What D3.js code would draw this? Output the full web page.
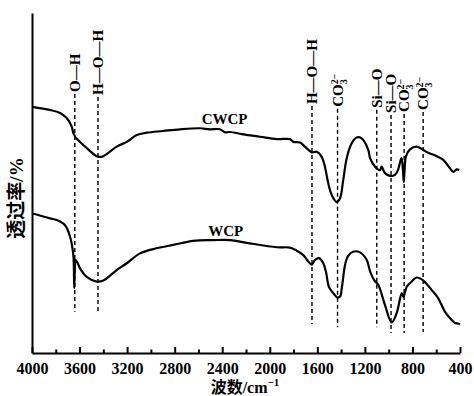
<!DOCTYPE html>
<html><head><meta charset="utf-8">
<script src="https://cdn.jsdelivr.net/npm/d3@7"></script>
<style>
html,body{margin:0;padding:0;background:#fff;}
svg{display:block;}
text{font-family:"Liberation Serif","Times New Roman","Noto Sans CJK SC",serif;font-weight:bold;fill:#000;}
</style></head>
<body><svg id="chart" width="474" height="396"></svg>
<script>
// ---- data ----
const cwcpWave = [4000,3849,3764,3708,3666,3653,3645,3638,3611,3540,3456,3414,3372,3288,3203,3119,3035,2898,2755,2587,2503,2419,2377,2335,2223,2082,1942,1830,1802,1746,1704,1647,1605,1563,1536,1508,1479,1437,1409,1382,1353,1311,1269,1227,1171,1157,1115,1073,1059,1031,989,947,922,892,880,873,866,854,821,764,709,667,596,541,484,456,428,406];
const cwcpVal  = [72.4,71.5,70.6,69.1,66.6,64.7,64.2,63.6,62.6,60.3,57.9,57.7,58.5,60.7,62.1,64.1,64.8,65.3,65.8,66.1,65.8,65.8,64.9,65.0,64.3,63.6,62.9,62.9,62.1,61.9,60.7,59.0,59.2,57.7,54.8,49.9,46.5,44.4,45.5,50.9,57.3,61.7,63.4,63.1,59.7,57.4,54.8,53.8,54.8,52.9,52.1,52.4,53.8,57.4,53.8,50.3,53.8,57.9,59.9,60.7,59.7,58.9,57.9,56.8,54.3,53.3,54.0,53.8];
const wcpWave  = [4000,3849,3792,3722,3680,3655,3649,3645,3640,3634,3613,3596,3540,3456,3400,3288,3203,3092,2951,2812,2643,2475,2335,2194,1942,1830,1774,1718,1676,1647,1619,1586,1550,1527,1502,1466,1430,1409,1393,1367,1342,1300,1241,1185,1157,1123,1087,1031,975,933,890,877,848,821,764,709,638,583,526,470,442,414,400];
const wcpVal   = [41.1,39.6,39.1,37.6,34.2,29.7,26.8,19.1,24.4,27.4,26.2,24.9,22.4,21.0,21.3,24.4,26.4,29.3,30.8,31.8,33.0,33.2,33.2,32.4,31.1,31.0,30.1,28.8,26.9,26.0,27.4,27.9,26.4,23.8,19.4,17.6,16.3,16.6,19.4,25.9,28.5,29.8,29.6,27.4,24.1,21.5,20.0,14.1,9.0,11.7,17.6,16.5,19.5,20.5,22.2,21.3,18.5,16.1,12.1,9.7,8.8,8.7,8.4];
const seriesNames = ["CWCP","WCP"];
const seriesLabelWave = [2380,2370];
const seriesLabelVal  = [67.5,34.5];
const xTicks = [4000,3600,3200,2800,2400,2000,1600,1200,800,400];
const xMinorTicks = [3800,3400,3000,2600,2200,1800,1400,1000,600];
const peakWave  = [3640,3445,1645,1430,1100,980,870,710];
const peakLabel = ["O—H","H—O—H","H—O—H","CO3","Si—O","Si—O","CO3","CO3"];
const peakTop    = [76.8,75.9,73.2,72.4,72.1,70.6,70.9,71.5];
const peakBottom = [12.1,11.5,8.5,7.6,7.6,5.9,5.9,6.2];

// ---- layout ----
const svg = d3.select("#chart");
const x = d3.scaleLinear().domain([4000,400]).range([32,460]);
const y = d3.scaleLinear().domain([0,100]).range([353,13]);

// axes
const gx = svg.append("g").attr("transform","translate(0,353)");
gx.call(d3.axisBottom(x).tickValues(xTicks).tickFormat(d3.format("d")).tickSizeInner(-6).tickSizeOuter(0).tickPadding(10));
gx.select(".domain").attr("stroke-width",2);
gx.selectAll(".tick line").attr("stroke-width",2);
gx.selectAll(".tick text").style("font-size","16px").style("font-family","'Liberation Serif',serif").style("font-weight","bold");
const gxm = svg.append("g").attr("transform","translate(0,353)");
gxm.call(d3.axisBottom(x).tickValues(xMinorTicks).tickFormat("").tickSizeInner(-3.5).tickSizeOuter(0));
gxm.select(".domain").remove();
gxm.selectAll(".tick line").attr("stroke-width",2);

const gy = svg.append("g").attr("transform","translate(32,0)");
gy.call(d3.axisLeft(y).tickValues([]).tickSizeOuter(0));
gy.select(".domain").attr("stroke-width",2);

// dashed peak lines + labels
peakWave.forEach((w,i)=>{
  const px = x(w);
  svg.append("line").attr("x1",px).attr("x2",px)
    .attr("y1",y(peakTop[i])+2).attr("y2",y(peakBottom[i]))
    .attr("stroke","#000").attr("stroke-width",1.4).attr("stroke-dasharray","4,3");
  const t = svg.append("text")
    .attr("transform",`translate(${px},${y(peakTop[i])}) rotate(-90)`)
    .attr("dy","0.35em").style("font-size","15px");
  if (peakLabel[i]==="CO3") {
    t.append("tspan").text("CO");
    t.append("tspan").text("3").style("font-size","10px").attr("dy",4);
    t.append("tspan").text("2−").style("font-size","10px").attr("dx",-5).attr("dy",-9);
  } else {
    t.text(peakLabel[i]);
  }
});

// curves
const line = d3.line().x(d=>x(d[0])).y(d=>y(d[1])).curve(d3.curveCatmullRom.alpha(0.5));
[[cwcpWave,cwcpVal],[wcpWave,wcpVal]].forEach(([ws,vs])=>{
  svg.append("path").datum(ws.map((w,i)=>[w,vs[i]]))
    .attr("d",line).attr("fill","none").attr("stroke","#000")
    .attr("stroke-width",2.2).attr("stroke-linejoin","round");
});

// series labels
seriesNames.forEach((n,i)=>{
  svg.append("text").attr("x",x(seriesLabelWave[i])).attr("y",y(seriesLabelVal[i]))
    .attr("text-anchor","middle").style("font-size","15px").text(n);
});

// axis titles
const xt = svg.append("text").attr("x",245).attr("y",393).attr("text-anchor","middle").style("font-size","16px");
xt.append("tspan").text("波数/cm");
xt.append("tspan").text("−1").style("font-size","11px").attr("dy",-7);

svg.append("text").attr("transform","translate(23,198) rotate(-90)")
  .attr("text-anchor","middle").style("font-size","19px").text("透过率/%");
</script>
</body></html>
